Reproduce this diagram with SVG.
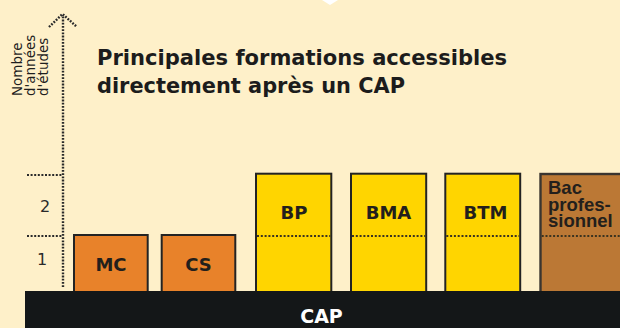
<svg xmlns="http://www.w3.org/2000/svg" width="620" height="328" viewBox="0 0 620 328">
  <style>
    .bg { fill: #fef0c9; }
    .box { stroke: #232323; stroke-width: 2; }
    .orange { fill: #e8822a; }
    .yellow { fill: #ffd500; }
    .brown { fill: #bb7835; stroke: #3a3530; stroke-width: 2.4; }
    .lbl { font-family: "DejaVu Sans", "Liberation Sans", sans-serif; font-weight: bold; font-size: 18px; fill: #231f1c; text-anchor: middle; }
    .bac { font-family: "Liberation Sans", Arial, sans-serif; font-weight: bold; font-size: 18.5px; fill: #231f1c; }
    .mid { stroke: #3b3320; stroke-width: 2; stroke-dasharray: 2 1.8; fill: none; }
    .axis { stroke: #2a2a2a; stroke-width: 2.4; stroke-dasharray: 1.8 1.4; fill: none; }
    .tick { stroke: #2a2a2a; stroke-width: 2; stroke-dasharray: 2 1.6; fill: none; }
    .num { font-family: "DejaVu Sans", "Liberation Sans", sans-serif; font-size: 16px; fill: #2a2a2a; text-anchor: middle; }
    .ylab { font-family: "DejaVu Sans", "Liberation Sans", sans-serif; font-size: 13.5px; fill: #1e1e1e; }
    .title { font-family: "DejaVu Sans", "Liberation Sans", sans-serif; font-weight: bold; font-size: 21px; fill: #1c1c1c; }
  </style>
  <rect class="bg" x="0" y="0" width="620" height="328"/>
  <polygon points="322,0 338,0 330,5" fill="#ffffff"/>

  <g id="title">
    <text class="title" x="97" y="65" textLength="410" lengthAdjust="spacingAndGlyphs">Principales formations accessibles</text>
    <text class="title" x="97" y="93" textLength="308" lengthAdjust="spacingAndGlyphs">directement après un CAP</text>
  </g>

  <g id="axis-label">
    <text class="ylab" transform="translate(22,96) rotate(-90)">Nombre</text>
    <text class="ylab" transform="translate(35,96) rotate(-90)">d'années</text>
    <text class="ylab" transform="translate(48,96) rotate(-90)">d'études</text>
  </g>

  <g id="connectors">
    <line class="axis" x1="63" y1="287" x2="63" y2="16"/>
    <polyline class="axis" points="49,27 62.5,14 77,27"/>
    <line class="tick" x1="27" y1="175" x2="62" y2="175"/>
    <line class="tick" x1="27" y1="236" x2="62" y2="236"/>
  </g>

  <g id="ticks">
    <text class="num" x="45" y="212">2</text>
    <text class="num" x="42" y="265">1</text>
  </g>

  <g id="MC">
    <rect class="box orange" x="74" y="235" width="73.7" height="70"/>
    <text class="lbl" x="111" y="271">MC</text>
  </g>
  <g id="CS">
    <rect class="box orange" x="161.7" y="235" width="73.6" height="70"/>
    <text class="lbl" x="198.5" y="271">CS</text>
  </g>
  <g id="BP">
    <rect class="box yellow" x="256" y="173.7" width="75.3" height="130"/>
    <line class="mid" x1="257" y1="236" x2="330.3" y2="236"/>
    <text class="lbl" x="294" y="219">BP</text>
  </g>
  <g id="BMA">
    <rect class="box yellow" x="351" y="173.7" width="75.2" height="130"/>
    <line class="mid" x1="352" y1="236" x2="425.2" y2="236"/>
    <text class="lbl" x="388.5" y="219">BMA</text>
  </g>
  <g id="BTM">
    <rect class="box yellow" x="445.3" y="173.7" width="74.9" height="130"/>
    <line class="mid" x1="446.3" y1="236" x2="519.2" y2="236"/>
    <text class="lbl" x="485.5" y="219">BTM</text>
  </g>
  <g id="BacPro">
    <rect class="brown" x="540.5" y="174" width="90" height="130"/>
    <line class="mid" x1="541.7" y1="236" x2="620" y2="236"/>
    <text class="bac" x="548" y="194">Bac</text>
    <text class="bac" x="548" y="210.5">profes-</text>
    <text class="bac" x="548" y="227">sionnel</text>
  </g>

  <g id="CAP">
    <rect x="25" y="291" width="595" height="37" fill="#141718"/>
    <text x="321.5" y="323" font-family="DejaVu Sans, Liberation Sans, sans-serif" font-weight="bold" font-size="19" fill="#ffffff" text-anchor="middle">CAP</text>
  </g>
</svg>
